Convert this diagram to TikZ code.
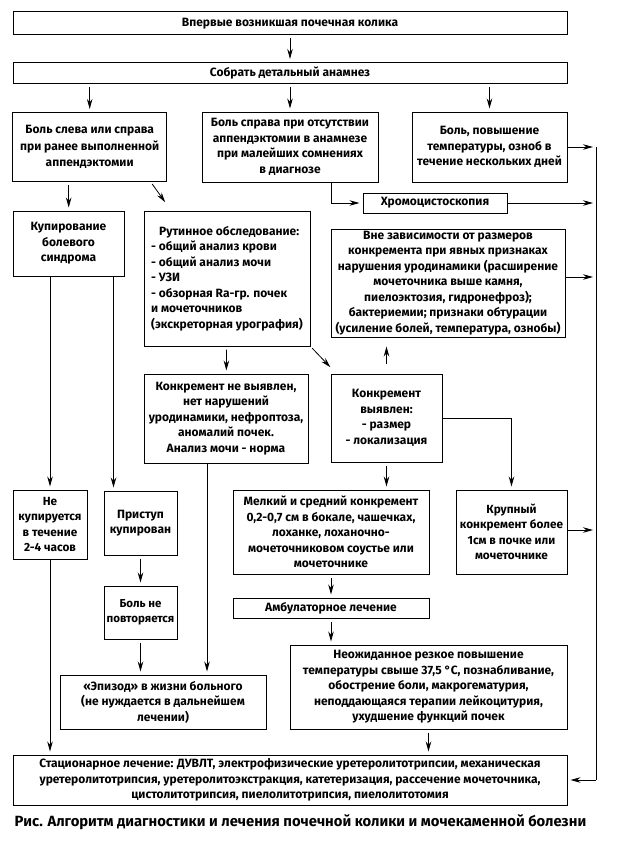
\documentclass[tikz,border=0pt]{standalone}
\usepackage{fontspec}
\setmainfont{Fira Sans}
\usetikzlibrary{arrows.meta,calc}
\tikzset{
  box/.style={draw, line width=1pt, align=center, inner sep=0pt, font=\bfseries\fontsize{12}{15.5}\selectfont},
  arr/.style={line width=0.8pt, -{Stealth[length=10pt,width=5.5pt]}, shorten >=3pt, shorten <=3pt},
  arrl/.style={line width=0.8pt, -{Stealth[length=10pt,width=5.5pt]}, shorten >=3pt},
  ln/.style={line width=0.8pt}
}
\begin{document}
\begin{tikzpicture}[x=1pt,y=-1pt]
\useasboundingbox (0,0) rectangle (621,844);
\node[box, minimum width=554, minimum height=23] (n1) at (290,23.4) {Впервые возникшая почечная колика};
\node[box, minimum width=554, minimum height=21] (n2) at (290,73) {Собрать детальный анамнез};
\node[box, minimum width=154, minimum height=69, font=\bfseries\fontsize{12}{16.5}\selectfont] (nA) at (89.7,147) {Боль слева или справа\\при ранее выполненной\\аппендэктомии};
\node[box, minimum width=176, minimum height=70] (nB) at (290,147) {Боль справа при отсутствии\\аппендэктомии в анамнезе\\при малейших сомнениях\\в диагнозе};
\node[box, minimum width=155, minimum height=70] (nC) at (489.5,147) {Боль, повышение\\температуры, озноб в\\течение нескольких дней};
\node[box, minimum width=144, minimum height=20] (nChromo) at (435,203) {Хромоцистоскопия};
\node[box, minimum width=111, minimum height=65] (nKup) at (68.5,243.5) {Купирование\\болевого\\синдрома};
\node[box, minimum width=166, minimum height=135, align=left] (nRut) at (227,278.5) {\hspace*{8pt}Рутинное обследование:\\- общий анализ крови\\- общий анализ мочи\\- УЗИ\\- обзорная Ra-гр. почек\\и мочеточников\\(экскреторная урография)};
\node[box, minimum width=234, minimum height=108] (nVne) at (448,283) {Вне зависимости от размеров\\конкремента при явных признаках\\нарушения уродинамики (расширение\\мочеточника выше камня,\\пиелоэктозия, гидронефроз);\\бактериемии; признаки обтурации\\(усиление болей, температура, ознобы)};
\node[box, minimum width=164, minimum height=89] (nNe) at (226,418.5) {Конкремент не выявлен,\\нет нарушений\\уродинамики, нефроптоза,\\аномалий почек.\\Анализ мочи - норма};
\node[box, minimum width=111, minimum height=88] (nVy) at (386.5,418) {Конкремент\\выявлен:\\- размер\\- локализация};
\node[box, minimum width=74, minimum height=69, font=\bfseries\fontsize{11.8}{15.5}\selectfont] (nNeKup) at (50,524.5) {Не\\купируется\\в течение\\2-4 часов};
\node[box, minimum width=73, minimum height=64] (nPri) at (140.5,523) {Приступ\\купирован};
\node[box, minimum width=73, minimum height=53, font=\bfseries\fontsize{11.5}{15.5}\selectfont] (nBol) at (140.5,612.5) {Боль не\\повторяется};
\node[box, minimum width=196, minimum height=84] (nMel) at (331,532) {Мелкий и средний конкремент\\0,2-0,7 см в бокале, чашечках,\\лоханке, лоханочно-\\мочеточниковом соустье или\\мочеточнике};
\node[box, minimum width=111, minimum height=84, font=\bfseries\fontsize{11.8}{15.5}\selectfont] (nKru) at (511.5,532) {Крупный\\конкремент более\\1см в почке или\\мочеточнике};
\node[box, minimum width=196, minimum height=20] (nAmb) at (331,608) {Амбулаторное лечение};
\node[box, minimum width=206, minimum height=54] (nEpi) at (163,702) {«Эпизод» в жизни больного\\(не нуждается в дальнейшем\\лечении)};
\node[box, minimum width=277, minimum height=84] (nNeozh) at (428.5,687) {Неожиданное резкое повышение\\температуры свыше 37,5 °С, познабливание,\\обострение боли, макрогематурия,\\неподдающаяся терапии лейкоцитурия,\\ухудшение функций почек};
\node[box, minimum width=554, minimum height=50] (nSta) at (290,780) {Стационарное лечение: ДУВЛТ, электрофизические уретеролитотрипсии, механическая\\уретеролитотрипсия, уретеролитоэкстракция, катетеризация, рассечение мочеточника,\\цистолитотрипсия, пиелолитотрипсия, пиелолитотомия};
\node[font=\bfseries\fontsize{14.8}{17}\selectfont, inner sep=0pt] (cap) at (300.5,822) {Рис. Алгоритм диагностики и лечения почечной колики и мочекаменной болезни};
% right collector line
\coordinate (r1) at (596,147);
\coordinate (r2) at (596,203);
\coordinate (r3) at (596,277);
\coordinate (r4) at (596,530);
\coordinate (r5) at (596,780);
\draw[ln] (r1) -- (r5);
\draw[arrl] (nC.east) -- (r1);
\draw[arrl] (nChromo.east) -- (r2);
\draw[arrl] (r3 -| nVne.east) -- (r3);
\draw[arrl] (r4 -| nKru.east) -- (r4);
\draw[arrl] (r5) -- (r5 -| nSta.east);
% top
\draw[arr] (n1) -- (n2);
\draw[arr] (n2.south -| nA.north) -- (nA.north);
\draw[arr] (n2) -- (nB);
\draw[arr] (n2.south -| nC.north) -- (nC.north);
\coordinate (a1) at ($(nA.south)+(-21,0)$);
\draw[arr] (a1) -- (a1 |- nKup.north);
\draw[arr, shorten <=0pt, shorten >=4pt] ($(nA.south east)+(-15,2)$) -- ($(nRut.north west)+(24,-5)$);
\coordinate (b1) at ($(nB.south west)+(130,0)$);
\draw[arrl] (b1) |- (nChromo.west);
\draw[arr] (nRut) -- (nNe);
\draw[arr, shorten <=1pt, shorten >=6pt] ($(nRut.south east)+(1,1)$) -- ($(nVy.north west)+(4,-2)$);
\draw[arr, shorten <=10pt, shorten >=9pt] (nVy.north) -- (nVy.north |- nVne.south);
\draw[arrl] (nVy.east) -| (nKru.north);
\draw[arr] (nVy.south) -- (nVy.south |- nMel.north);
\draw[arr] (nMel) -- (nAmb);
\draw[arr] (nAmb.south) -- (nAmb.south |- nNeozh.north);
\draw[arr] (nNeozh.south) -- (nNeozh.south |- nSta.north);
% left
\draw[arrl] (nNeKup.north |- nKup.south) -- (nNeKup.north);
\coordinate (p1) at ($(nPri.north west)+(10,0)$);
\draw[arrl] (p1 |- nKup.south) -- (p1);
\draw[arr] (nPri) -- (nBol);
\draw[arr] (nBol.south) -- (nBol.south |- nEpi.north);
\coordinate (q1) at ($(nNe.south)+(-19,0)$);
\draw[arrl] (q1) -- (q1 |- nEpi.north);
\draw[arrl] (nNeKup.south) -- (nNeKup.south |- nSta.north);
\end{tikzpicture}
\end{document}
